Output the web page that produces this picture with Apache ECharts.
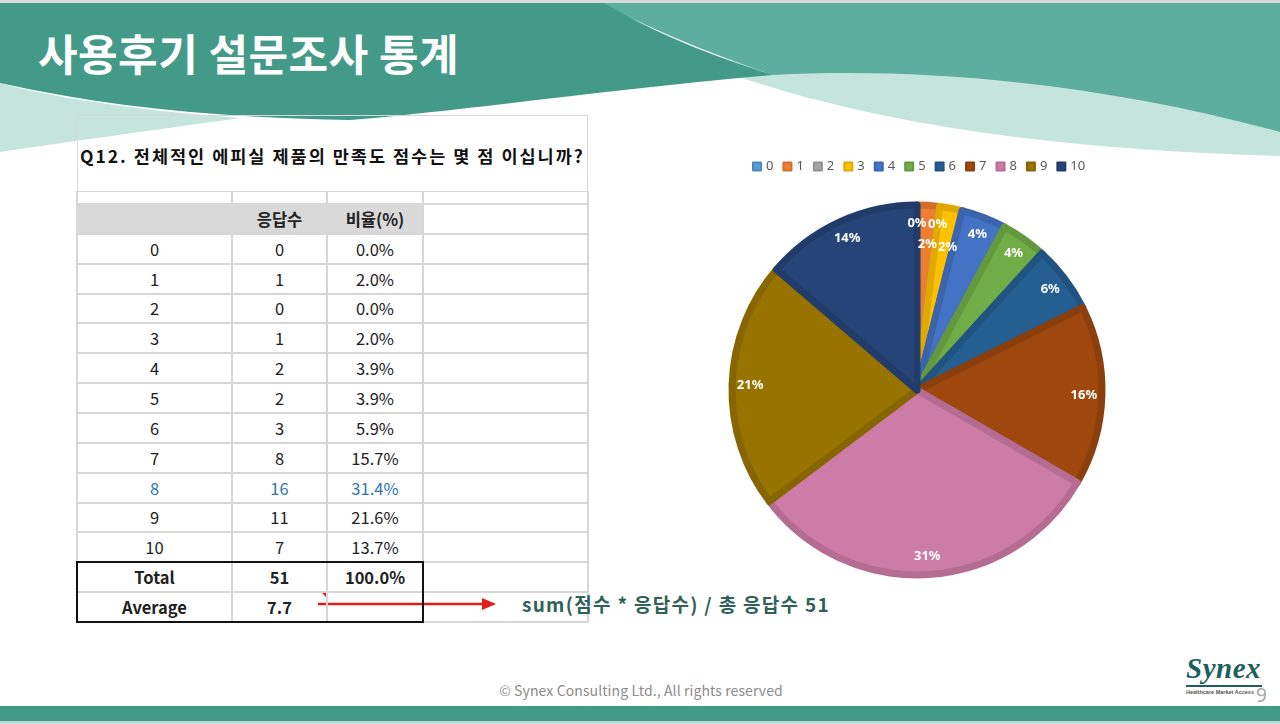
<!DOCTYPE html>
<html>
<head>
<meta charset="utf-8">
<script src="https://cdn.jsdelivr.net/npm/echarts@6/dist/echarts.min.js"></script>
<style>
    html, body { margin: 0; padding: 0; background: #fff; }
    #slide { position: relative; width: 1280px; height: 724px; overflow: hidden; font-family: 'Noto Sans CJK KR', 'Noto Sans', sans-serif; }
    #deco { position: absolute; left: 0; top: 0; }
    #title { position: absolute; left: 38px; top: 21px; font-size: 43px; font-weight: 700; color: #fff; letter-spacing: 0.5px; line-height: 62px; }
    .line { position: absolute; background: #d6d6d6; }
    .cell { position: absolute; display: flex; align-items: center; justify-content: center; font-size: 16.5px; color: #222; }
    #chart { position: absolute; left: 0; top: 0; width: 1280px; height: 724px; }
</style>
</head>
<body>
<div id="slide">
    <svg id="deco" width="1280" height="724">
        <rect x="0" y="0" width="1280" height="3" fill="#d9d9d9"/>
        <path d="M733,75 C 880,125 1060,150 1280,156 L1280,60 L733,60 Z" fill="#c5e5dc"/>
        <path d="M0,83 C 60,100 160,112 240,118 C 170,128 80,140 0,152 Z" fill="#c5e5dc"/>
        <path d="M600,3 L1280,3 L1280,132 C 1120,88 940,66 773,75 C 700,50 650,28 600,3 Z" fill="#5dae9f"/>
        <path d="M0,3 L604,3 C 650,30 700,52 773,75 C 620,88 470,110 350,120 C 230,118 110,108 0,83 Z" fill="#449a88"/>
        <rect x="0" y="706" width="1280" height="15" fill="#449a88"/>
        <rect x="0" y="721" width="1280" height="3" fill="#bcdcd4"/>
        <!-- arrow from the average cell -->
        <polygon points="321,592 328,592 328,599" fill="#e01c1c"/>
        <line x1="318" y1="604" x2="484" y2="604" stroke="#e01c1c" stroke-width="2.5"/>
        <polygon points="496,604 482,598 482,610" fill="#e01c1c"/>
    </svg>
    <div id="title">사용후기 설문조사 통계</div>
    <div id="table"></div>
    <div style="position:absolute;left:522px;top:591px;font-size:19px;font-weight:700;color:#2f6158;line-height:26px;letter-spacing:1.3px;white-space:nowrap;">sum(점수 * 응답수) / 총 응답수 51</div>
    <div style="position:absolute;left:0;width:1282px;top:680px;text-align:center;font-size:14px;color:#8c8c8c;line-height:20px;letter-spacing:0.1px;">© Synex Consulting Ltd., All rights reserved</div>
    <div style="position:absolute;left:1186px;top:652px;font-family:'Liberation Serif',serif;font-style:italic;font-weight:700;font-size:29px;color:#1d5f5c;line-height:32px;letter-spacing:0.5px;">Synex</div>
    <div style="position:absolute;left:1186px;top:685px;width:76px;height:1.5px;background:#1d5f5c;"></div>
    <div style="position:absolute;left:1186px;top:688px;font-family:'Liberation Sans',sans-serif;font-weight:700;font-size:5.5px;color:#555;line-height:8px;white-space:nowrap;">Healthcare Market Access</div>
    <div style="position:absolute;left:1256px;top:684px;font-family:'Noto Sans',sans-serif;font-size:19px;color:#a6a6a6;line-height:22px;">9</div>
    <div id="chart"></div>
</div>
<script>
const question = 'Q12. 전체적인 에피실 제품의 만족도 점수는 몇 점 이십니까?';
const headers = ['', '응답수', '비율(%)'];
const scores = ['0', '1', '2', '3', '4', '5', '6', '7', '8', '9', '10'];
const counts = [0, 1, 0, 1, 2, 2, 3, 8, 16, 11, 7];
const ratios = ['0.0%', '2.0%', '0.0%', '2.0%', '3.9%', '3.9%', '5.9%', '15.7%', '31.4%', '21.6%', '13.7%'];
const totalRow = ['Total', '51', '100.0%'];
const averageRow = ['Average', '7.7', ''];
const highlightScore = '8';

const palette = ['#5b9bd5', '#ed7d31', '#a5a5a5', '#ffc000', '#4472c4', '#70ad47',
    '#255e91', '#9e480e', '#cd7ba7', '#997300', '#264478'];

// darker shade of a slice colour, used for the bevel-like border
const shade = (hex, k) => {
    const n = parseInt(hex.slice(1), 16);
    const ch = [(n >> 16) & 255, (n >> 8) & 255, n & 255].map(v => Math.round(v * k));
    return 'rgb(' + ch.join(',') + ')';
}

// ---- table ----
const colX = [77, 232, 327, 423, 588];
const top0 = 204;
const rowH = 29.85;
const table = document.getElementById('table');

const addDiv = (cls, css, text) => {
    const d = document.createElement('div');
    d.className = cls;
    Object.assign(d.style, css);
    if (text !== undefined) d.textContent = text;
    table.appendChild(d);
    return d;
}

// question box
addDiv('', {position: 'absolute', left: '77px', top: '115px', width: '511px', height: '77px',
    border: '1.5px solid #d6d6d6', boxSizing: 'border-box'});
addDiv('', {position: 'absolute', left: '80px', top: '142px', fontSize: '17.5px', fontWeight: '700',
    color: '#111', letterSpacing: '2px', lineHeight: '28px', whiteSpace: 'nowrap'}, question);

const rows = [headers]
    .concat(scores.map((s, i) => [s, String(counts[i]), ratios[i]]))
    .concat([totalRow, averageRow]);
const bottom = top0 + rows.length * rowH;

// grid lines
for (let r = 0; r <= rows.length; r++) {
    addDiv('line', {left: '77px', top: (top0 + r * rowH - 1) + 'px', width: '511px', height: '2px'});
}
colX.forEach(x => addDiv('line', {left: (x - 1) + 'px', top: '191px', width: '2px', height: (bottom - 191 + 1) + 'px'}));

// header background
addDiv('', {position: 'absolute', left: '77px', top: top0 + 'px', width: (colX[3] - 77) + 'px',
    height: (rowH - 1) + 'px', background: '#d9d9d9'});

rows.forEach((row, r) => {
    const bold = r === 0 || r >= rows.length - 2;
    const blue = row[0] === highlightScore && r > 0;
    row.forEach((txt, c) => {
        addDiv('cell', {
            left: colX[c] + 'px', top: (top0 + r * rowH) + 'px',
            width: (colX[c + 1] - colX[c]) + 'px', height: rowH + 'px',
            fontWeight: bold ? '700' : '400',
            color: blue ? '#2e75b6' : '#222'
        }, txt);
    });
});

// total / average box
addDiv('', {position: 'absolute', left: '76px', top: (top0 + 12 * rowH - 1) + 'px',
    width: (colX[3] - 75) + 'px', height: (2 * rowH + 2) + 'px', border: '2px solid #111', boxSizing: 'border-box'});

// ---- pie ----
const pieData = scores.map((s, i) => ({name: s, value: counts[i]}));
const center = [917, 390];

const chart = echarts.init(document.getElementById('chart'), null, {renderer: 'canvas'});
chart.setOption({
    backgroundColor: 'transparent',
    color: palette,
    animation: false,
    legend: {
        data: scores,
        left: 752,
        top: 160,
        padding: 0,
        icon: 'rect',
        itemWidth: 8,
        itemHeight: 8,
        itemGap: 9,
        textStyle: {
            color: '#595959',
            fontSize: 13,
            fontFamily: 'Noto Sans'
        }
    },
    series: [
        {
            type: 'pie',
            center,
            radius: 185,
            startAngle: 90,
            silent: true,
            label: {show: false},
            labelLine: {show: false},
            itemStyle: {borderWidth: 7},
            data: pieData.map((d, i) => Object.assign({}, d, {
                itemStyle: {borderColor: shade(palette[i], 0.88)}
            }))
        },
        {
            // transparent ring that only carries the labels
            type: 'pie',
            center,
            radius: [140, 188],
            startAngle: 90,
            silent: true,
            percentPrecision: 0,
            itemStyle: {color: 'rgba(0,0,0,0)', borderWidth: 0},
            labelLine: {show: false},
            label: {
                show: true,
                position: 'inner',
                color: '#fff',
                fontSize: 13,
                fontWeight: 'bold',
                fontFamily: 'Noto Sans',
                formatter: p => p.value === 1 ? '{lo|' + p.percent + '%}' : p.percent + '%',
                rich: {
                    lo: {color: '#fff', fontSize: 13, fontWeight: 'bold', fontFamily: 'Noto Sans', padding: [42, 0, 0, 0]}
                }
            },
            data: pieData
        }
    ]
});
window.addEventListener('resize', () => {
    chart.resize();
})
</script>
</body>
</html>
